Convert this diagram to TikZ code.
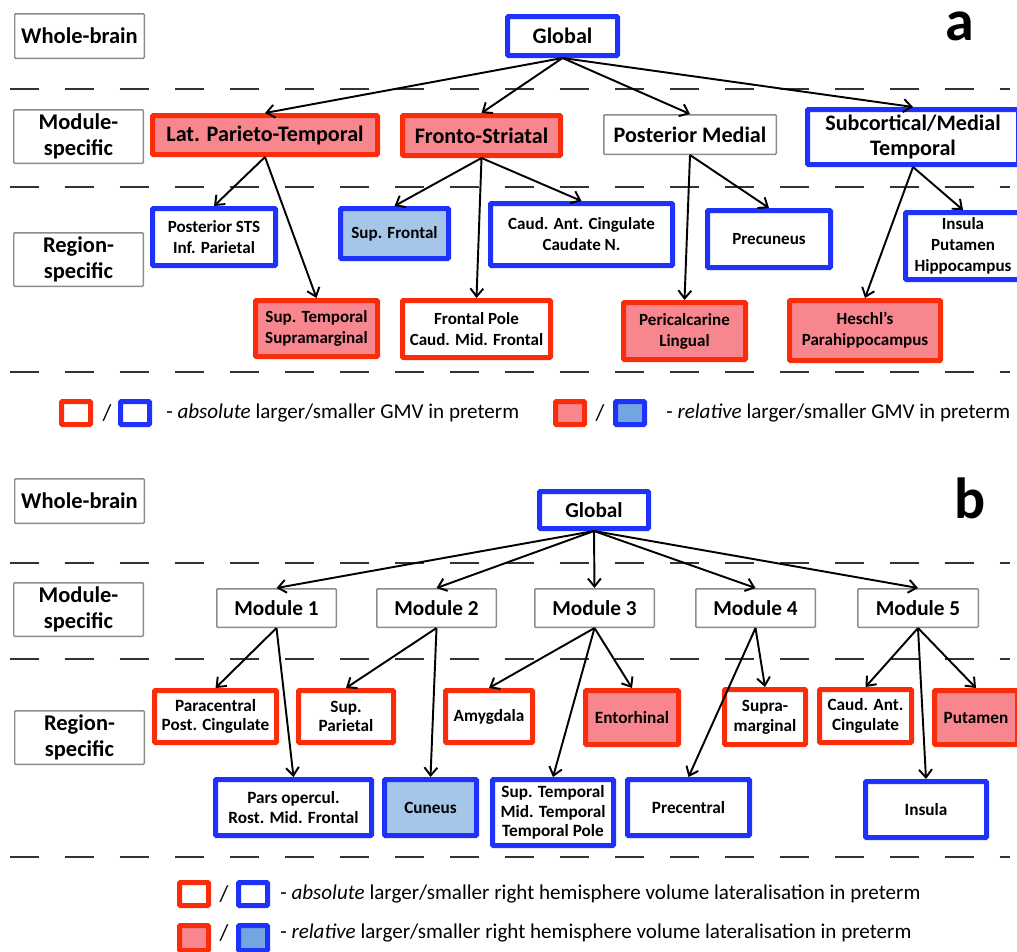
\documentclass[tikz,border=0pt]{standalone}
\usepackage{fontspec}
\setmainfont{Carlito}
\usetikzlibrary{arrows.meta}
\definecolor{redE}{RGB}{250,45,10}
\definecolor{pinkF}{RGB}{248,134,142}
\definecolor{blueE}{RGB}{30,50,250}
\definecolor{lblueF}{RGB}{165,198,232}
\definecolor{lblueG}{RGB}{115,165,225}
\definecolor{grayE}{RGB}{140,140,140}
\newcommand\tnode[7]{\node[#1, minimum width={(#5-#3)*0.02cm-0.1cm}, minimum height={(#6-#4)*0.02cm-0.1cm}] (#2) at ({(#3+#5)/2},{(#4+#6)/2}) {#7};}
\newcommand\gnode[7]{\node[#1, minimum width={(#5-#3)*0.02cm-0.03cm}, minimum height={(#6-#4)*0.02cm-0.03cm}] (#2) at ({(#3+#5)/2},{(#4+#6)/2}) {#7};}
\tikzset{
  basebox/.style={inner sep=0pt, align=center, rounded corners=0.5pt},
  thick box/.style={basebox, draw, line width=0.1cm},
  redbox/.style={thick box, draw=redE, fill=white},
  redfill/.style={thick box, draw=redE, fill=pinkF},
  bluebox/.style={thick box, draw=blueE, fill=white},
  bluefill/.style={thick box, draw=blueE, fill=lblueF},
  bluefillG/.style={thick box, draw=blueE, fill=lblueG},
  plain/.style={basebox, draw=grayE, line width=0.03cm, fill=white},
  hdr/.style={plain, font=\bfseries\fontsize{12.8}{15}\selectfont},
  lvl1/.style={font=\bfseries\fontsize{12.6}{14.5}\selectfont},
  lvlb/.style={font=\bfseries\fontsize{12.1}{14}\selectfont},
  reg/.style={font=\bfseries\fontsize{9.7}{12}\selectfont},
  regb/.style={font=\bfseries\fontsize{9.8}{11.2}\selectfont},
  legtext/.style={anchor=west, inner sep=0pt, font=\fontsize{12}{14}\selectfont},
  slash/.style={inner sep=0pt, font=\fontsize{13}{15}\selectfont},
  arr/.style={draw, line width=1.1pt, -{Straight Barb[length=1.6mm,width=2.6mm]}},
  sep/.style={draw=black!80, line width=1.1pt, dash pattern=on 0.58cm off 0.52cm},
  panel/.style={inner sep=0pt, anchor=base, font=\bfseries\fontsize{33}{35}\selectfont}
}
\begin{document}
\begin{tikzpicture}[x=0.02cm,y=-0.02cm]
\useasboundingbox (0,0) rectangle (1017,951);
% separators
\draw[sep] (10,89) -- (1010,89);
\draw[sep] (10,187) -- (1010,187);
\draw[sep] (10,372) -- (1010,372);
\draw[sep] (10,563) -- (1010,563);
\draw[sep] (10,659) -- (1010,659);
\draw[sep] (10,857) -- (1010,857);
% ---------------- panel a ----------------
\node[panel] (pa) at (960,40) {a};
\gnode{hdr}{wb1}{14}{13}{145}{59}{Whole-brain}
\gnode{hdr}{ms1}{13}{109}{144}{164}{Module-\\specific}
\gnode{hdr}{rs1}{13}{232}{144}{287}{Region-\\specific}
\tnode{bluebox,lvl1}{glob1}{505}{14}{620}{58}{Global}
\tnode{redfill,lvl1}{lpt}{150}{113}{380}{157}{Lat. Parieto-Temporal}
\tnode{redfill,lvl1}{fs}{400}{113}{563}{158}{Fronto-Striatal}
\gnode{plain,lvl1}{pm}{603}{114}{777}{155}{Posterior Medial}
\tnode{bluebox,lvl1}{smt}{805}{107}{1021}{167}{Subcortical/Medial\\Temporal}
\tnode{bluebox,reg}{psts}{150}{206}{278}{268}{Posterior STS\\Inf. Parietal}
\tnode{bluefill,reg}{sf}{338}{206}{451}{261}{Sup. Frontal}
\tnode{bluebox,reg}{cac}{488}{201}{675}{268}{Caud. Ant. Cingulate\\Caudate N.}
\tnode{bluebox,reg}{prec}{705}{208}{833}{270}{Precuneus}
\tnode{bluebox,reg}{iph}{903}{210}{1023}{282}{Insula\\Putamen\\Hippocampus}
\tnode{redfill,reg}{stsm}{253}{298}{380}{359}{Sup. Temporal\\Supramarginal}
\tnode{redbox,reg}{fpcm}{400}{298}{553}{360}{Frontal Pole\\Caud. Mid. Frontal}
\tnode{redfill,reg}{pcl}{621}{300}{748}{362}{Pericalcarine\\Lingual}
\tnode{redfill,reg}{hph}{787}{298}{943}{363}{Heschl’s\\Parahippocampus}
\draw[arr] (glob1.south) -- (lpt.north);
\draw[arr] (glob1.south) -- (fs.north);
\draw[arr] (glob1.south) -- (pm.north);
\draw[arr] (glob1.south) -- (smt.north);
\draw[arr] (lpt.south) -- (psts.north);
\draw[arr] (lpt.south) -- (stsm.north);
\draw[arr] (fs.south) -- (sf.north);
\draw[arr] (fs.south) -- (fpcm.north);
\draw[arr] (fs.south) -- (cac.north);
\draw[arr] (pm.south) -- (pcl.north);
\draw[arr] (pm.south) -- (prec.north);
\draw[arr] (smt.south) -- (hph.north);
\draw[arr] (smt.south) -- (iph.north);
% legend a
\tnode{redbox}{la1}{59}{399}{93}{427}{}
\node[slash] (las1) at (107,413) {/};
\tnode{bluebox}{la2}{118}{399}{152}{427}{}
\node[legtext] (lat1) at (166,413) {- \textit{absolute} larger/smaller GMV in preterm};
\tnode{redfill}{la3}{553}{399}{587}{427}{}
\node[slash] (las2) at (600,413) {/};
\tnode{bluefillG}{la4}{613}{399}{647}{427}{}
\node[legtext] (lat2) at (666,413) {- \textit{relative} larger/smaller GMV in preterm};
% ---------------- panel b ----------------
\node[panel] (pb) at (970,518) {b};
\gnode{hdr}{wb2}{14}{478}{145}{524}{Whole-brain}
\gnode{hdr}{ms2}{13}{582}{144}{637}{Module-\\specific}
\gnode{hdr}{rs2}{14}{710}{145}{765}{Region-\\specific}
\tnode{bluebox,lvlb}{glob2}{537}{489}{651}{531}{Global}
\gnode{plain,lvlb}{m1}{216}{588}{337}{628}{Module 1}
\gnode{plain,lvlb}{m2}{376}{588}{497}{628}{Module 2}
\gnode{plain,lvlb}{m3}{534}{588}{655}{628}{Module 3}
\gnode{plain,lvlb}{m4}{695}{588}{816}{628}{Module 4}
\gnode{plain,lvlb}{m5}{857}{588}{979}{628}{Module 5}
\tnode{redbox,regb}{para}{152}{688}{279}{745}{Paracentral\\Post. Cingulate}
\tnode{redbox,regb}{supp}{296}{688}{396}{745}{Sup.\\Parietal}
\tnode{redbox,regb}{amy}{443}{688}{535}{745}{Amygdala}
\tnode{redfill,regb}{ento}{583}{688}{681}{747}{Entorhinal}
\tnode{redbox,regb}{supm}{722}{687}{808}{747}{Supra-\\marginal}
\tnode{redbox,regb}{cac2}{817}{687}{914}{745}{Caud. Ant.\\Cingulate}
\tnode{redfill,regb}{put}{932}{688}{1020}{747}{Putamen}
\tnode{bluebox,regb}{pars}{213}{777}{374}{838}{Pars opercul.\\Rost. Mid. Frontal}
\tnode{bluefill,regb}{cun}{382}{777}{479}{838}{Cuneus}
\tnode{bluebox,regb}{stm}{490}{777}{616}{848}{Sup. Temporal\\Mid. Temporal\\Temporal Pole}
\tnode{bluebox,regb}{prc}{625}{777}{752}{838}{Precentral}
\tnode{bluebox,regb}{ins}{863}{779}{989}{840}{Insula}
\foreach \m in {m1,m2,m3,m4,m5} \draw[arr] (glob2.south) -- (\m.north);
\draw[arr] (m1.south) -- (para.north);
\draw[arr] (m1.south) -- (pars.north);
\draw[arr] (m2.south) -- (supp.north);
\draw[arr] (m2.south) -- (cun.north);
\draw[arr] (m3.south) -- (amy.north);
\draw[arr] (m3.south) -- (stm.north);
\draw[arr] (m3.south) -- (ento.north);
\draw[arr] (m4.south) -- (prc.north);
\draw[arr] (m4.south) -- (supm.north);
\draw[arr] (m5.south) -- (cac2.north);
\draw[arr] (m5.south) -- (ins.north);
\draw[arr] (m5.south) -- (put.north);
% legend b
\tnode{redbox}{lb1}{177}{880}{211}{908}{}
\node[slash] (lbs1) at (224,894) {/};
\tnode{bluebox}{lb2}{236}{880}{270}{908}{}
\node[legtext] (lbt1) at (280,894) {- \textit{absolute} larger/smaller right hemisphere volume lateralisation in preterm};
\tnode{redfill}{lb3}{177}{923}{211}{953}{}
\node[slash] (lbs2) at (224,933) {/};
\tnode{bluefillG}{lb4}{236}{923}{270}{953}{}
\node[legtext] (lbt2) at (280,933) {- \textit{relative} larger/smaller right hemisphere volume lateralisation in preterm};
\end{tikzpicture}
\end{document}
